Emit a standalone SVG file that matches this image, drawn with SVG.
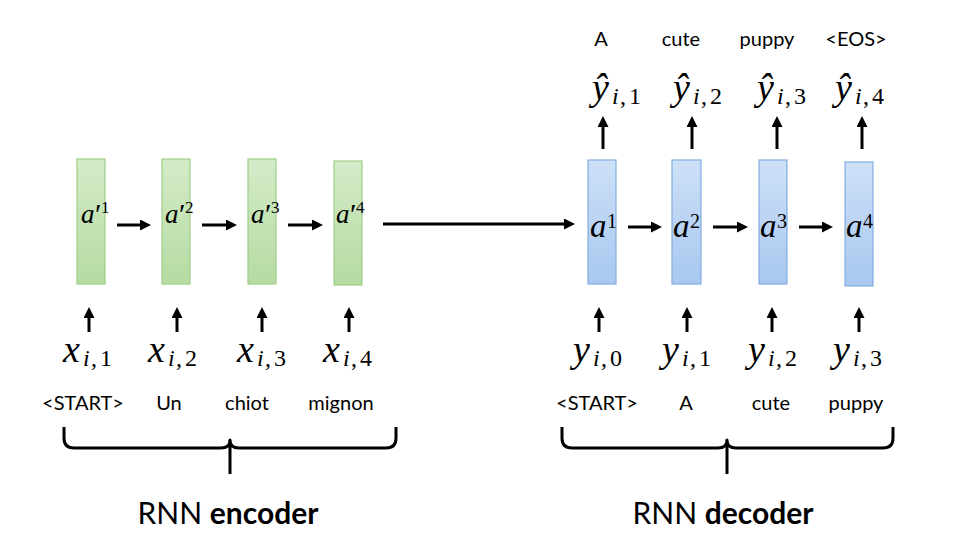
<svg xmlns="http://www.w3.org/2000/svg" width="960" height="554" viewBox="0 0 960 554">
<defs>
<linearGradient id="gG" x1="0" y1="0" x2="0" y2="1"><stop offset="0" stop-color="#d4ebc8"/><stop offset="1" stop-color="#b6dba2"/></linearGradient>
<linearGradient id="gB" x1="0" y1="0" x2="0" y2="1"><stop offset="0" stop-color="#cde0f7"/><stop offset="1" stop-color="#a8c8ef"/></linearGradient>
<marker id="ah" markerUnits="userSpaceOnUse" markerWidth="11" markerHeight="11" viewBox="0 0 11 11" refX="7" refY="5.5" orient="auto"><path d="M0,0 L11,5.5 L0,11 z" fill="#000"/></marker>
<style>
.enc{fill:url(#gG);stroke:#9fce87;stroke-width:1.2}
.dec{fill:url(#gB);stroke:#83ade2;stroke-width:1.2}
.ar{stroke:#000;stroke-width:3;fill:none;marker-end:url(#ah)}
.br{stroke:#000;stroke-width:3;fill:none;stroke-linejoin:round}
.m{font-family:"Liberation Serif","DejaVu Serif",serif;fill:#000}
.it{font-style:italic}
.ea{font-size:27px}
.da{font-size:33px}
.big{font-size:38px}
.sub{font-size:24px}
.w{font-family:Lato,"Liberation Sans",sans-serif;font-size:20px;fill:#000;text-anchor:middle}
.t{font-family:Lato,"Liberation Sans",sans-serif;font-size:30px;fill:#000;text-anchor:middle}
</style>
</defs>
<rect width="960" height="554" fill="#fff"/>

<g id="enc1"><rect class="enc" x="77" y="159" width="28" height="125"/><text class="m ea" y="223"><tspan x="81" class="it">a</tspan><tspan x="95" y="224" font-size="30">′</tspan><tspan x="101" y="213" font-size="17">1</tspan></text></g>
<g id="enc2"><rect class="enc" x="162" y="159" width="28" height="125"/><text class="m ea" y="223"><tspan x="165" class="it">a</tspan><tspan x="179" y="224" font-size="30">′</tspan><tspan x="185" y="213" font-size="17">2</tspan></text></g>
<g id="enc3"><rect class="enc" x="248" y="159" width="28" height="125"/><text class="m ea" y="223"><tspan x="251" class="it">a</tspan><tspan x="265" y="224" font-size="30">′</tspan><tspan x="271" y="213" font-size="17">3</tspan></text></g>
<g id="enc4"><rect class="enc" x="334" y="161" width="28" height="124"/><text class="m ea" y="223"><tspan x="336" class="it">a</tspan><tspan x="350" y="224" font-size="30">′</tspan><tspan x="356" y="213" font-size="17">4</tspan></text></g>

<g id="dec1"><rect class="dec" x="588" y="160" width="28" height="124"/><text class="m da" y="237"><tspan x="590" class="it">a</tspan><tspan x="607" y="228" font-size="20">1</tspan></text></g>
<g id="dec2"><rect class="dec" x="672" y="160" width="29" height="124"/><text class="m da" y="237"><tspan x="673" class="it">a</tspan><tspan x="690" y="228" font-size="20">2</tspan></text></g>
<g id="dec3"><rect class="dec" x="759" y="160" width="28" height="124"/><text class="m da" y="237"><tspan x="760" class="it">a</tspan><tspan x="777" y="228" font-size="20">3</tspan></text></g>
<g id="dec4"><rect class="dec" x="845" y="162" width="28" height="124"/><text class="m da" y="237"><tspan x="846" class="it">a</tspan><tspan x="863" y="228" font-size="20">4</tspan></text></g>

<g id="x1"><text class="m" y="362"><tspan x="63" class="it big">x</tspan><tspan x="83" y="366" class="it sub">i</tspan><tspan x="91" class="sub">,</tspan><tspan x="100" class="sub">1</tspan></text><text class="w" x="83" y="410">&lt;START&gt;</text></g>
<g id="x2"><text class="m" y="362"><tspan x="148" class="it big">x</tspan><tspan x="168" y="366" class="it sub">i</tspan><tspan x="176" class="sub">,</tspan><tspan x="185" class="sub">2</tspan></text><text class="w" x="169" y="410">Un</text></g>
<g id="x3"><text class="m" y="362"><tspan x="237" class="it big">x</tspan><tspan x="257" y="366" class="it sub">i</tspan><tspan x="265" class="sub">,</tspan><tspan x="274" class="sub">3</tspan></text><text class="w" x="247" y="410">chiot</text></g>
<g id="x4"><text class="m" y="362"><tspan x="323" class="it big">x</tspan><tspan x="343" y="366" class="it sub">i</tspan><tspan x="351" class="sub">,</tspan><tspan x="360" class="sub">4</tspan></text><text class="w" x="341" y="410">mignon</text></g>

<g id="y0"><text class="m" y="362"><tspan x="573" class="it big">y</tspan><tspan x="593" y="366" class="it sub">i</tspan><tspan x="601" class="sub">,</tspan><tspan x="610" class="sub">0</tspan></text><text class="w" x="597" y="410">&lt;START&gt;</text></g>
<g id="y1"><text class="m" y="362"><tspan x="662" class="it big">y</tspan><tspan x="682" y="366" class="it sub">i</tspan><tspan x="690" class="sub">,</tspan><tspan x="699" class="sub">1</tspan></text><text class="w" x="686" y="410">A</text></g>
<g id="y2"><text class="m" y="362"><tspan x="748" class="it big">y</tspan><tspan x="768" y="366" class="it sub">i</tspan><tspan x="776" class="sub">,</tspan><tspan x="785" class="sub">2</tspan></text><text class="w" x="771" y="410">cute</text></g>
<g id="y3"><text class="m" y="362"><tspan x="833" class="it big">y</tspan><tspan x="853" y="366" class="it sub">i</tspan><tspan x="861" class="sub">,</tspan><tspan x="870" class="sub">3</tspan></text><text class="w" x="856" y="410">puppy</text></g>

<g id="yh1"><text class="w" x="601" y="46">A</text><text class="m" y="100"><tspan x="592" class="it big">ŷ</tspan><tspan x="612" y="104" class="it sub">i</tspan><tspan x="620" class="sub">,</tspan><tspan x="629" class="sub">1</tspan></text></g>
<g id="yh2"><text class="w" x="681" y="46">cute</text><text class="m" y="100"><tspan x="673" class="it big">ŷ</tspan><tspan x="693" y="104" class="it sub">i</tspan><tspan x="701" class="sub">,</tspan><tspan x="710" class="sub">2</tspan></text></g>
<g id="yh3"><text class="w" x="767" y="46">puppy</text><text class="m" y="100"><tspan x="757" class="it big">ŷ</tspan><tspan x="777" y="104" class="it sub">i</tspan><tspan x="785" class="sub">,</tspan><tspan x="794" class="sub">3</tspan></text></g>
<g id="yh4"><text class="w" x="856" y="46">&lt;EOS&gt;</text><text class="m" y="100"><tspan x="835" class="it big">ŷ</tspan><tspan x="855" y="104" class="it sub">i</tspan><tspan x="863" class="sub">,</tspan><tspan x="872" class="sub">4</tspan></text></g>

<g id="connectors">
<line class="ar" x1="117" y1="225" x2="147" y2="225"/>
<line class="ar" x1="202" y1="225" x2="233" y2="225"/>
<line class="ar" x1="288" y1="225" x2="319" y2="225"/>
<line class="ar" x1="383" y1="224" x2="571" y2="224"/>
<line class="ar" x1="628" y1="227" x2="658" y2="227"/>
<line class="ar" x1="713" y1="227" x2="744" y2="227"/>
<line class="ar" x1="799" y1="227" x2="829" y2="227"/>
<line class="ar" x1="89" y1="332" x2="89" y2="311"/>
<line class="ar" x1="177" y1="332" x2="177" y2="311"/>
<line class="ar" x1="262" y1="332" x2="262" y2="311"/>
<line class="ar" x1="349" y1="332" x2="349" y2="311"/>
<line class="ar" x1="599" y1="332" x2="599" y2="311"/>
<line class="ar" x1="687" y1="332" x2="687" y2="311"/>
<line class="ar" x1="772" y1="332" x2="772" y2="311"/>
<line class="ar" x1="859" y1="332" x2="859" y2="311"/>
<line class="ar" x1="603" y1="149" x2="603" y2="120"/>
<line class="ar" x1="692" y1="149" x2="692" y2="120"/>
<line class="ar" x1="777" y1="149" x2="777" y2="120"/>
<line class="ar" x1="862" y1="149" x2="862" y2="120"/>
</g>

<g id="encoder-brace">
<path class="br" d="M64,427 V438 Q64,448 74,448 H221 Q230,448 230,440 Q230,448 239,448 H386 Q396,448 396,438 V427 M230,442 V474"/>
<text class="t" x="228" y="524">RNN <tspan font-weight="bold">encoder</tspan></text>
</g>
<g id="decoder-brace">
<path class="br" d="M562,427 V438 Q562,448 572,448 H718 Q727,448 727,440 Q727,448 736,448 H883 Q893,448 893,438 V427 M727,442 V474"/>
<text class="t" x="723" y="524">RNN <tspan font-weight="bold">decoder</tspan></text>
</g>
</svg>
